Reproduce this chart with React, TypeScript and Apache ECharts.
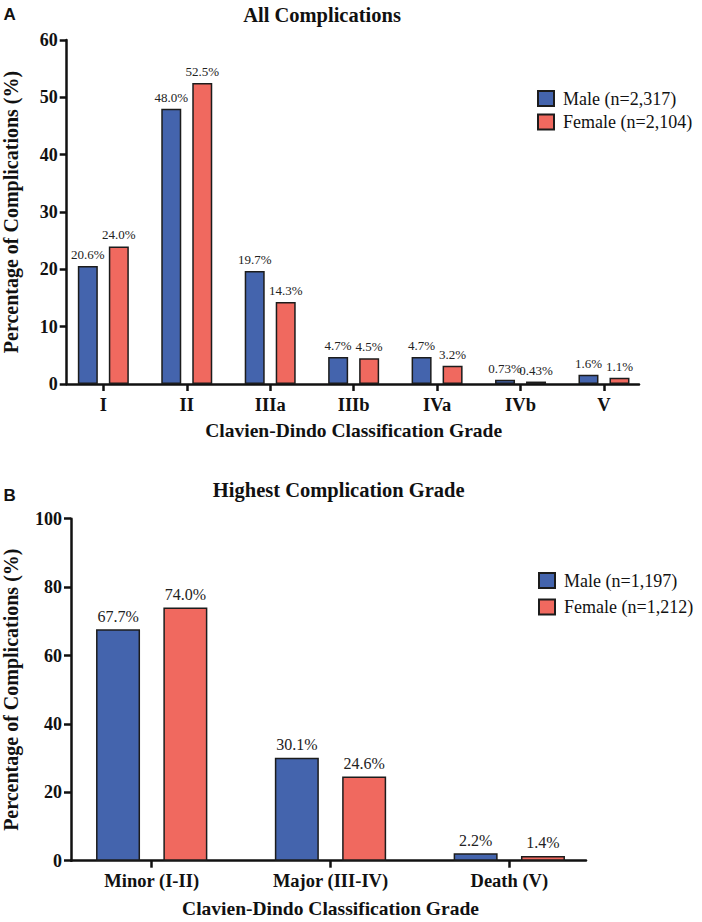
import React, { useEffect, useRef } from "react";
import * as echarts from "echarts";

// Panel A: every complication, by Clavien-Dindo grade
const gradesAll = ["I", "II", "IIIa", "IIIb", "IVa", "IVb", "V"];
const maleAll = [20.6, 48.0, 19.7, 4.7, 4.7, 0.73, 1.6];
const femaleAll = [24.0, 52.5, 14.3, 4.5, 3.2, 0.43, 1.1];
const maleAllName = "Male (n=2,317)";
const femaleAllName = "Female (n=2,104)";
const yAxisAll = { min: 0, max: 60, step: 10 };

// Panel B: highest complication grade per patient
const gradesHighest = ["Minor (I-II)", "Major (III-IV)", "Death (V)"];
const maleHighest = [67.7, 30.1, 2.2];
const femaleHighest = [74.0, 24.6, 1.4];
const maleHighestName = "Male (n=1,197)";
const femaleHighestName = "Female (n=1,212)";
const yAxisHighest = { min: 0, max: 100, step: 20 };

const titleAll = "All Complications";
const titleHighest = "Highest Complication Grade";
const xTitle = "Clavien-Dindo Classification Grade";
const yTitle = "Percentage of Complications (%)";

const SERIF = "'Liberation Serif', 'Times New Roman', serif";
const SANS = "'Liberation Sans', Arial, sans-serif";
const BLUE = "#4464ad";
const RED = "#f0695f";
const INK = "#111111";

const pct = (v: number) => (v < 1 ? v.toFixed(2) : v.toFixed(1)) + "%";

const lineStyle = { color: INK, width: 2.5 };

function barSeries(
  name: string,
  data: number[],
  color: string,
  axisIndex: number,
  barWidth: number,
  barGap: string,
  labelSize: number
) {
  return {
    type: "bar",
    name,
    data,
    xAxisIndex: axisIndex,
    yAxisIndex: axisIndex,
    barWidth,
    barGap,
    itemStyle: { color, borderColor: "#1c1c1c", borderWidth: 1.5 },
    label: {
      show: true,
      position: "top",
      distance: 5,
      formatter: (p: any) => pct(p.value),
      fontFamily: SERIF,
      fontSize: labelSize,
      color: "#222",
    },
  };
}

// bar grid: category bands; frame grid: the drawn L-shaped frame with value ticks
function panelAxes(
  cats: string[],
  range: { min: number; max: number; step: number },
  barGridIndex: number,
  frameGridIndex: number,
  labelMargin: number,
  xNameGap: number,
  yNameGap: number
) {
  const xAxes = [
    {
      gridIndex: barGridIndex,
      type: "category",
      data: cats,
      axisLine: { show: false },
      axisTick: { show: true, alignWithLabel: true, length: 7, lineStyle },
      axisLabel: {
        fontFamily: SERIF,
        fontWeight: "bold",
        fontSize: 18.5,
        color: INK,
        margin: labelMargin,
      },
      name: xTitle,
      nameLocation: "middle",
      nameGap: xNameGap,
      nameMoveOverlap: false,
      nameTextStyle: { fontFamily: SERIF, fontWeight: "bold", fontSize: 19.5, color: INK },
      splitLine: { show: false },
    },
    {
      gridIndex: frameGridIndex,
      type: "value",
      min: 0,
      max: 1,
      axisLine: { show: true, lineStyle },
      axisTick: { show: false },
      axisLabel: { show: false },
      splitLine: { show: false },
    },
  ];
  const yAxes = [
    {
      gridIndex: barGridIndex,
      type: "value",
      min: range.min,
      max: range.max,
      show: false,
      splitLine: { show: false },
    },
    {
      gridIndex: frameGridIndex,
      type: "value",
      min: range.min,
      max: range.max,
      interval: range.step,
      axisLine: { show: true, lineStyle },
      axisTick: { show: true, length: 7, lineStyle },
      axisLabel: {
        fontFamily: SERIF,
        fontWeight: "bold",
        fontSize: 18,
        color: INK,
        margin: 9,
      },
      splitLine: { show: false },
      name: yTitle,
      nameLocation: "middle",
      nameGap: yNameGap,
      nameMoveOverlap: false,
      nameTextStyle: { fontFamily: SERIF, fontWeight: "bold", fontSize: 20, color: INK },
    },
  ];
  return { xAxes, yAxes };
}

function legend(names: string[], left: number, top: number, gap: number) {
  return {
    data: names,
    orient: "vertical",
    left,
    top,
    padding: 0,
    itemWidth: 16,
    itemHeight: 15,
    itemGap: gap,
    icon: "rect",
    selectedMode: false,
    textStyle: { fontFamily: SERIF, fontSize: 18, color: INK, padding: [0, 0, 0, 4] },
  };
}

export default function App() {
  const ref = useRef<HTMLDivElement>(null);

  useEffect(() => {
    if (!ref.current) return;
    const chart = echarts.init(ref.current, undefined, { renderer: "svg" });

    const a = panelAxes(gradesAll, yAxisAll, 0, 1, 11, 36, 46);
    const b = panelAxes(gradesHighest, yAxisHighest, 2, 3, 10.5, 38, 50);

    chart.setOption({
      animation: false,
      backgroundColor: "#ffffff",
      grid: [
        { left: 61.6, top: 40, width: 584.1, height: 344, outerBoundsMode: "none" },
        { left: 66.7, top: 40, width: 572.3, height: 344, outerBoundsMode: "none" },
        { left: 62.3, top: 518.7, width: 536.4, height: 342, outerBoundsMode: "none" },
        { left: 71, top: 518.7, width: 515, height: 342, outerBoundsMode: "none" },
      ],
      xAxis: [...a.xAxes, ...b.xAxes],
      yAxis: [...a.yAxes, ...b.yAxes],
      legend: [
        legend([maleAllName, femaleAllName], 537, 89.5, 5.5),
        legend([maleHighestName, femaleHighestName], 538, 571.5, 8.5),
      ],
      series: [
        barSeries(maleAllName, maleAll, BLUE, 0, 20, "55%", 13),
        barSeries(femaleAllName, femaleAll, RED, 0, 20, "55%", 13),
        barSeries(maleHighestName, maleHighest, BLUE, 2, 44, "53%", 16),
        barSeries(femaleHighestName, femaleHighest, RED, 2, 44, "53%", 16),
      ],
      graphic: [
        {
          type: "text",
          x: 3.5,
          y: 14.5,
          style: { text: "A", font: `bold 17px ${SANS}`, fill: INK, textVerticalAlign: "middle" },
        },
        {
          type: "text",
          x: 322,
          y: 15,
          style: {
            text: titleAll,
            font: `bold 20.5px ${SERIF}`,
            fill: INK,
            textAlign: "center",
            textVerticalAlign: "middle",
          },
        },
        {
          type: "text",
          x: 3.5,
          y: 495.8,
          style: { text: "B", font: `bold 17px ${SANS}`, fill: INK, textVerticalAlign: "middle" },
        },
        {
          type: "text",
          x: 338.7,
          y: 490,
          style: {
            text: titleHighest,
            font: `bold 20.5px ${SERIF}`,
            fill: INK,
            textAlign: "center",
            textVerticalAlign: "middle",
          },
        },
      ],
    });

    return () => chart.dispose();
  }, []);

  return (
    <div
      ref={ref}
      style={{ position: "absolute", left: 0, top: 0, width: 702, height: 922, background: "#fff" }}
    />
  );
}
